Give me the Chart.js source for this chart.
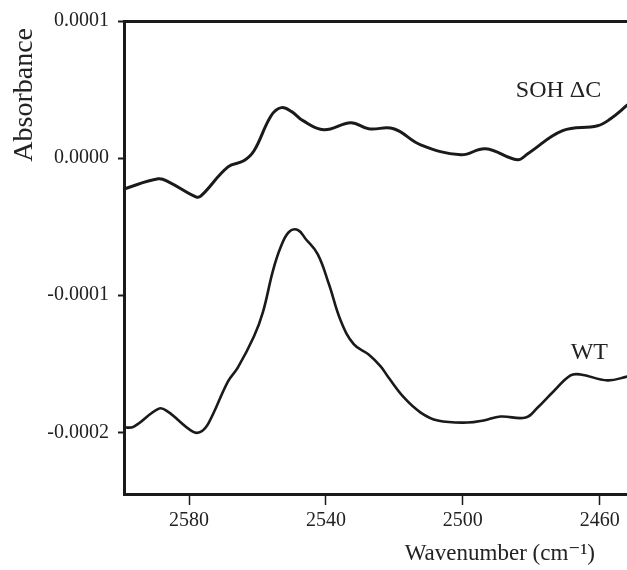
<!DOCTYPE html>
<html>
<head>
<meta charset="utf-8">
<script src="https://cdn.jsdelivr.net/npm/chart.js@4"></script>
<style>
  html, body { margin: 0; padding: 0; background: #fff; }
  #wrap { width: 627px; height: 570px; }
</style>
</head>
<body>
<div id="wrap"><canvas id="irChart"></canvas></div>
<script>
// === DATA ===
const sohWavenumber = [2599, 2589, 2586, 2578, 2576.5, 2568.6, 2564, 2561, 2556, 2553, 2550, 2546.7, 2540.6, 2532.7, 2527.5, 2520.2, 2512.3, 2500.6, 2493.3, 2484, 2481, 2470.8, 2460.6, 2456.8, 2451.8];
const sohAbsorbance = [-0.0000225, -0.0000151, -0.0000173, -0.0000283, -0.0000276, -0.0000064, -0.0000020, 0.0000053, 0.0000309, 0.0000368, 0.0000339, 0.0000273, 0.0000207, 0.0000258, 0.0000214, 0.0000214, 0.0000097, 0.0000024, 0.0000068, -0.0000012, 0.0000032, 0.0000200, 0.0000236, 0.0000287, 0.0000389];

const wtWavenumber = [2599, 2596.1, 2588.8, 2586.2, 2578.9, 2576.5, 2574.2, 2568.6, 2565.7, 2561, 2558.4, 2555.5, 2553.2, 2550.8, 2548.2, 2545.9, 2542.4, 2539.1, 2535.6, 2531.8, 2527.5, 2524, 2521.9, 2517.2, 2512.3, 2507.3, 2498.6, 2493.9, 2489, 2481.6, 2478.1, 2473.5, 2468.5, 2465.6, 2457.7, 2451.8];
const wtAbsorbance = [-0.0001966, -0.0001958, -0.0001827, -0.0001849, -0.0001995, -0.0001995, -0.0001929, -0.0001629, -0.0001527, -0.0001300, -0.0001124, -0.0000824, -0.0000649, -0.0000539, -0.0000524, -0.0000590, -0.0000700, -0.0000920, -0.0001190, -0.0001359, -0.0001432, -0.0001519, -0.0001593, -0.0001746, -0.0001856, -0.0001914, -0.0001929, -0.0001914, -0.0001885, -0.0001892, -0.0001819, -0.0001702, -0.0001585, -0.0001578, -0.0001621, -0.0001593];

const xTickValues = [2580, 2540, 2500, 2460];
const yTickValues = [0.0001, 0, -0.0001, -0.0002];

const notes = [
  { text: "SOH \u0394C", x: 2472, y: 0.0000492 },
  { text: "WT", x: 2463, y: -0.0001417 }
];
const xTitle = "Wavenumber (cm\u207B\u00B9)";

const ink = "#1a1a1a";
const serif = "'Liberation Serif', 'DejaVu Serif', serif";

function toPoints(xs, ys) {
  return xs.map((x, i) => ({ x: x, y: ys[i] }));
}

// === CURVE LABELS + X TITLE ===
// (the built-in title goes off-canvas on a reversed axis with align "end")
const curveLabels = {
  id: "curveLabels",
  afterDraw(chart) {
    const { ctx, scales, chartArea } = chart;
    ctx.save();
    ctx.fillStyle = "#222";
    ctx.font = "24px " + serif;
    ctx.textAlign = "center";
    ctx.textBaseline = "middle";
    notes.forEach(n => {
      ctx.fillText(n.text, scales.x.getPixelForValue(n.x), scales.y.getPixelForValue(n.y));
    });
    ctx.font = "23px " + serif;
    ctx.textAlign = "right";
    ctx.fillText(xTitle, chartArea.right - 32, chart.height - 16);
    ctx.restore();
  }
};

// === CHART ===
const ctx = document.getElementById("irChart").getContext("2d");
new Chart(ctx, {
  type: "line",
  data: {
    datasets: [
      {
        label: "SOH \u0394C",
        data: toPoints(sohWavenumber, sohAbsorbance),
        borderColor: ink,
        borderWidth: 3,
        pointRadius: 0,
        tension: 0.4,
        fill: false
      },
      {
        label: "WT",
        data: toPoints(wtWavenumber, wtAbsorbance),
        borderColor: ink,
        borderWidth: 2.6,
        pointRadius: 0,
        tension: 0.4,
        fill: false
      }
    ]
  },
  options: {
    responsive: true,
    maintainAspectRatio: false,
    animation: false,
    layout: { padding: 0 },
    plugins: {
      legend: { display: false },
      tooltip: { enabled: false }
    },
    scales: {
      x: {
        type: "linear",
        position: "bottom",
        reverse: true,
        min: 2452,
        max: 2599,
        afterBuildTicks: s => { s.ticks = xTickValues.map(v => ({ value: v })); },
        afterFit: s => { s.height = 76; },
        grid: { drawOnChartArea: false, drawTicks: true, tickLength: 11, tickWidth: 1.5, tickColor: ink },
        border: { display: true, width: 3, color: ink },
        ticks: {
          color: "#222",
          font: { family: serif, size: 20 },
          padding: 4,
          maxRotation: 0,
          callback: v => String(v)
        }
      },
      x2: {
        type: "linear",
        position: "top",
        reverse: true,
        min: 2452,
        max: 2599,
        afterFit: s => { s.height = 21; },
        grid: { drawOnChartArea: false, drawTicks: false },
        border: { display: true, width: 3, color: ink },
        ticks: { display: false }
      },
      y: {
        type: "linear",
        position: "left",
        min: -0.000245,
        max: 0.0001,
        afterBuildTicks: s => { s.ticks = yTickValues.map(v => ({ value: v })); },
        afterFit: s => { s.width = 124; },
        grid: { drawOnChartArea: false, drawTicks: true, tickLength: 6, tickWidth: 2, tickColor: ink },
        border: { display: true, width: 3, color: ink },
        ticks: {
          color: "#222",
          font: { family: serif, size: 20 },
          padding: 9,
          callback: v => v.toFixed(4)
        },
        title: {
          display: true,
          text: "Absorbance ",
          align: "end",
          color: "#222",
          font: { family: serif, size: 28 },
          padding: { top: 8, bottom: 0 }
        }
      }
    }
  },
  plugins: [curveLabels]
});
</script>
</body>
</html>
